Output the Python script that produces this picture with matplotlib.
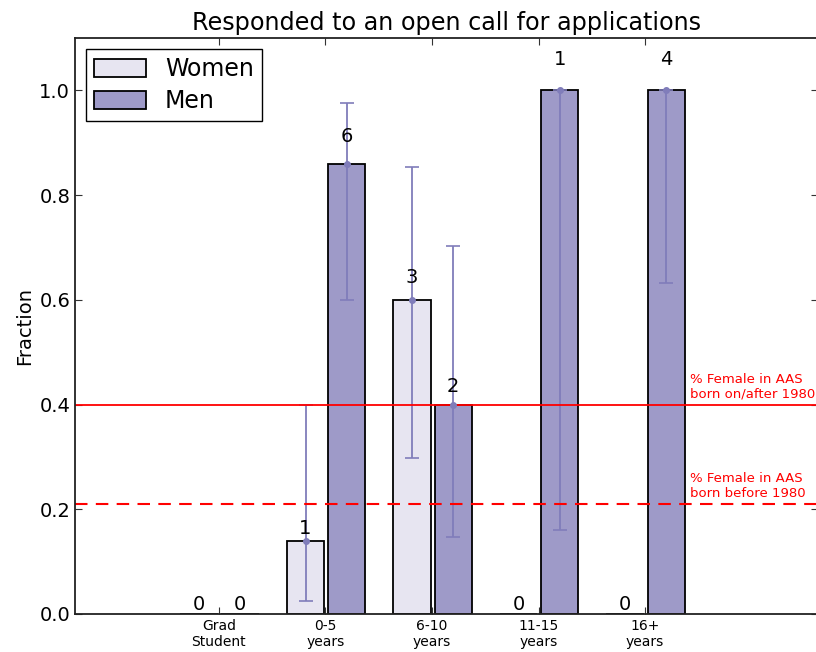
import numpy as np
import matplotlib
matplotlib.use("Agg")
import matplotlib.pyplot as plt

groups = ["Grad\nStudent", "0-5\nyears", "6-10\nyears", "11-15\nyears", "16+\nyears"]
women_n = [0, 1, 3, 0, 0]
men_n = [0, 6, 2, 1, 4]
women_frac = [0.0, 0.14, 0.60, 0.0, 0.0]
men_frac = [0.0, 0.86, 0.40, 1.0, 1.0]
# error bar lower / upper limits (absolute), None where no bar
women_lo = [None, 0.025, 0.297, None, None]
women_hi = [None, 0.400, 0.853, None, None]
men_lo = [None, 0.600, 0.147, 0.160, 0.632]
men_hi = [None, 0.975, 0.703, 1.000, 1.000]
aas_after_1980 = 0.40
aas_before_1980 = 0.21

c_women = "#e7e5f1"
c_men = "#9e9ac8"
c_err = "#807dba"

plt.rcParams["font.family"] = "DejaVu Sans"
fig = plt.figure(figsize=(8.16, 6.52), dpi=100)
ax = fig.add_axes([0.092, 0.0583, 0.91, 0.8834])

ind = np.arange(len(groups))
w = 0.35
wl = ind - 0.362
ml = ind + 0.024
ax.bar(wl, women_frac, w, align="edge", color=c_women, edgecolor="black", lw=1.3, label="Women")
ax.bar(ml, men_frac, w, align="edge", color=c_men, edgecolor="black", lw=1.3, label="Men")

def errs(xc, vals, lo, hi):
    for x, v, l, h in zip(xc, vals, lo, hi):
        if l is None:
            continue
        ax.errorbar([x], [v], yerr=[[v - l], [h - v]], fmt="o", color=c_err, ms=4,
                    mec=c_err, elinewidth=1.3, capsize=5, capthick=1.2)

errs(wl + w / 2, women_frac, women_lo, women_hi)
errs(ml + w / 2, men_frac, men_lo, men_hi)

for i in ind:
    ax.text(wl[i] + w / 2, women_frac[i] * 1.04, str(women_n[i]), ha="center", va="bottom", fontsize=14)
    ax.text(ml[i] + w / 2, men_frac[i] * 1.04, str(men_n[i]), ha="center", va="bottom", fontsize=14)

ax.axhline(aas_after_1980, color="red", lw=1.3)
ax.axhline(aas_before_1980, color="red", lw=1.5, ls="--", dashes=(6, 4))
ax.text(4.42, aas_after_1980 + 0.007, "% Female in AAS\nborn on/after 1980", color="red", fontsize=9.5, va="bottom")
ax.text(4.42, aas_before_1980 + 0.007, "% Female in AAS\nborn before 1980", color="red", fontsize=9.5, va="bottom")

ax.set_xlim(-1.35, 5.62)
ax.set_ylim(0, 1.1)
ax.set_xticks(ind)
ax.set_xticklabels(groups, fontsize=10)
ax.set_yticks([0.0, 0.2, 0.4, 0.6, 0.8, 1.0])
ax.tick_params(axis="y", labelsize=14)
ax.tick_params(direction="in", top=True, right=True, length=5, color="#333333")
for s in ax.spines.values():
    s.set_linewidth(1.3)
    s.set_color("#222222")
ax.set_ylabel("Fraction", fontsize=14)
ax.set_title("Responded to an open call for applications", fontsize=17.2)
ax.legend(loc="upper left", fontsize=17, fancybox=False, edgecolor="black", framealpha=1,
          handlelength=2.2, handleheight=0.8, labelspacing=0.35, borderpad=0.35,
          borderaxespad=0.45)

fig.savefig("out.png", dpi=100)
